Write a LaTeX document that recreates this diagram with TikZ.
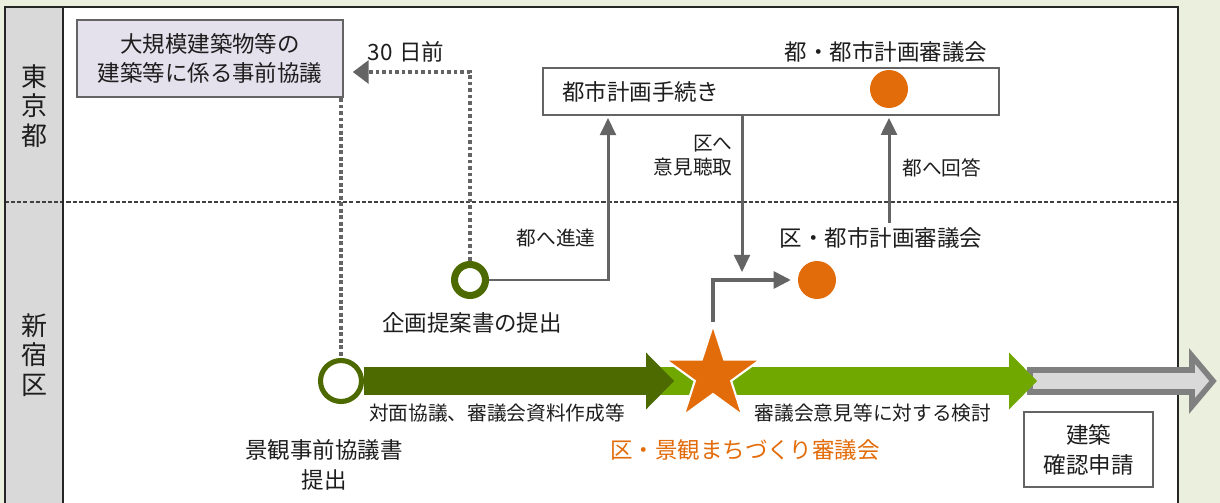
\documentclass[tikz,border=0pt]{standalone}
\usepackage{fontspec}
\setmainfont{Noto Sans CJK JP}
\usetikzlibrary{arrows.meta}
\usetikzlibrary{shapes.geometric}

\definecolor{bgpale}{RGB}{235,239,222}
\definecolor{lanegray}{RGB}{217,217,217}
\definecolor{lavender}{RGB}{228,224,236}
\definecolor{dkgreen}{RGB}{76,106,0}
\definecolor{ltgreen}{RGB}{112,168,0}
\definecolor{orng}{RGB}{227,108,10}
\definecolor{linegray}{RGB}{100,100,100}
\definecolor{arrowgray}{RGB}{128,128,128}
\definecolor{textblack}{RGB}{30,30,30}

\begin{document}
\begin{tikzpicture}[x=0.02cm, y=-0.02cm,
  big/.style={font=\fontsize{12.8}{17}\selectfont, text=textblack, inner sep=0pt},
  small/.style={font=\fontsize{11.2}{13.6}\selectfont, text=textblack, inner sep=0pt},
  lane/.style={font=\fontsize{14.8}{16.8}\selectfont, text=textblack, align=center},
  box/.style={draw=linegray, line width=1.3pt, big, align=center},
  ring/.style={circle, fill=white, draw=dkgreen, inner sep=0pt},
  dot/.style={circle, fill=orng, inner sep=0pt, minimum size=0.76cm},
  line/.style={draw=linegray, line width=1.7pt, -{Triangle[length=9.7pt, width=9pt]}},
  dotline/.style={linegray, line width=1.9pt, dash pattern=on 2.2pt off 1.5pt},
  dottip/.style={-{Triangle[length=9pt, width=13.6pt, line width=0pt]}},
  mainarrow/.style={line width=15.9pt, -{Triangle[length=15.9pt, width=32.4pt, line width=0pt]}}]
\useasboundingbox (0,0) rectangle (1220,503);

\fill[bgpale] (0,0) rectangle (1220,503);
\fill[white] (5,7) rectangle (1178,503);
\fill[lanegray] (5,7) rectangle (63,503);
\draw[black!75, line width=0.85pt, dash pattern=on 2.3pt off 1.2pt] (5,202) -- (1178,202);
\draw[black!85, line width=1.4pt] (5,503) -- (5,7) -- (1178,7) -- (1178,503);
\draw[black!85, line width=1.4pt] (63,7) -- (63,503);

\node[lane] (tokyo) at (35,106) {東\\京\\都};
\node[lane] (shinjuku) at (35,355) {新\\宿\\区};

% boxes and points
\node[box, fill=lavender, minimum width=5.32cm, minimum height=1.54cm] (jizen) at (210,58.5)
  {大規模建築物等の\\建築等に係る事前協議};
\node[box, fill=white, align=left, text width=8.36cm, inner xsep=0.38cm, minimum height=0.94cm] (tetsuzuki)
  at (771,91.5) {都市計画手続き};
\node[dot] (tokaigi) at (889,89) {};
\node[dot] (kukaigi) at (817,280) {};
\node[ring, line width=4pt, minimum size=0.62cm] (teian) at (470,280) {};
\node[ring, line width=2.9pt, minimum size=0.82cm] (kyogi) at (341,381) {};
\node[box, fill=white, minimum width=2.58cm, minimum height=1.5cm] (kakunin) at (1088.5,449.5)
  {建築\\確認申請};

\node[big] (d30lbl) at (406,52) {30\hspace{0.3em}日前};
\node[big] (tokaigilbl) at (886,52) {都・都市計画審議会};
\node[small, anchor=east, align=right] (ikenlbl) at (733,156) {区へ\\意見聴取};
\node[small, anchor=west] (kaitolbl) at (902,168) {都へ回答};
\node[small, anchor=east] (shintatsulbl) at (596,238) {都へ進達};
\node[big] (kukaigilbl) at (881,238) {区・都市計画審議会};
\node[big] (teianlbl) at (472,323) {企画提案書の提出};
\node[small] (taimenlbl) at (497,413) {対面協議、審議会資料作成等};
\node[small] (kentolbl) at (873,413) {審議会意見等に対する検討};
\node[big, align=center] (kyogilbl) at (324,465) {景観事前協議書\\提出};
\node[big, text=orng] (keikanlbl) at (745,450) {区・景観まちづくり審議会};

% connectors
\coordinate (d30) at (470,72);
\coordinate (shintatsu) at (608,118);
\coordinate (iken) at (742,272);
\coordinate (kaito) at (889,223);
\draw[dotline] (kyogi.north |- jizen.south) -- (kyogi.north);
\draw[dotline, dottip, shorten >=5pt] (teian.north) -- (d30) -- (jizen.east |- d30);
\draw[line] (teian.east) -| (shintatsu);
\draw[line] (tetsuzuki.south -| iken) -- (iken);
\draw[line, shorten >=1pt] (kaito) -- (tetsuzuki.south -| kaito);

% main flow
\coordinate (dkend) at (674,381);
\coordinate (ltstart) at (655,381);
\coordinate (ltend) at (1037,381);
\filldraw[fill=lanegray, draw=arrowgray, line width=3.2pt, line join=miter]
  (1030,370) -- (1192,370) -- (1192,356) -- (1213,381) -- (1192,406) -- (1192,392)
  -- (1030,392) -- cycle;
\draw[mainarrow, ltgreen] (ltstart) -- (ltend);
\draw[mainarrow, dkgreen] (kyogi.east) -- (dkend);
\node[star, star points=5, star point ratio=2.618, minimum size=2cm, inner sep=0pt,
  fill=orng, draw=white, line width=1.2pt] (keikan) at (713,375) {};
\draw[draw=linegray, line width=2.8pt, -{Triangle[length=9.7pt, width=10.2pt, line width=0pt]},
  shorten >=4pt] (keikan.north) |- (kukaigi.west);
\end{tikzpicture}
\end{document}
